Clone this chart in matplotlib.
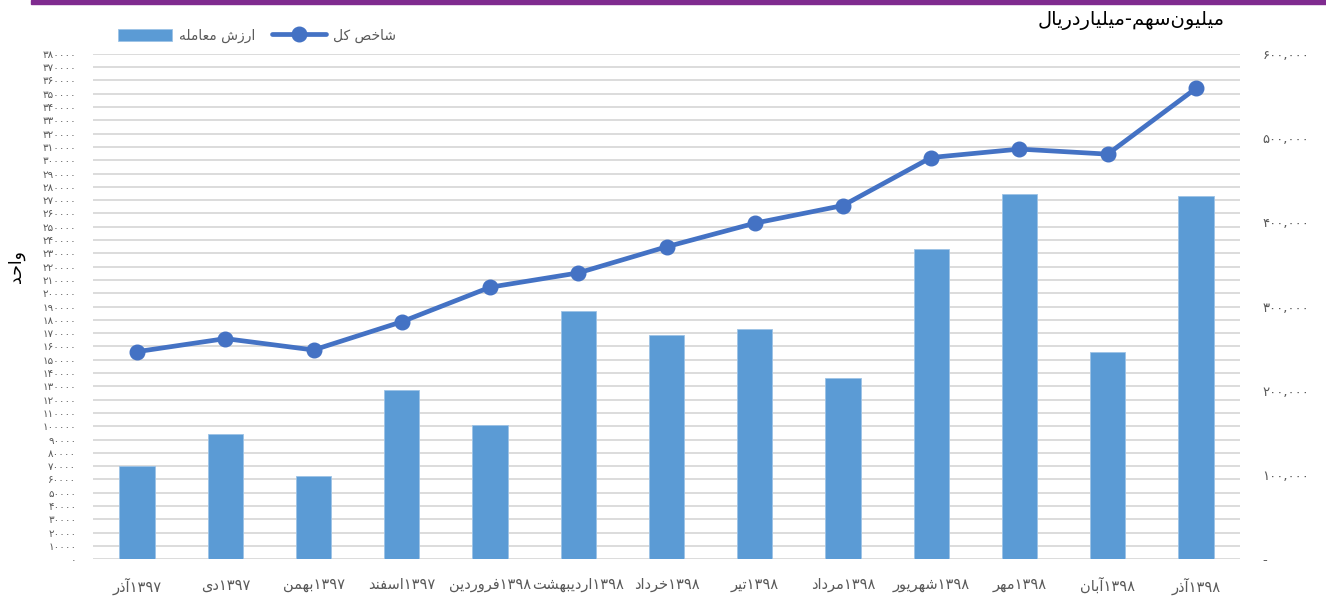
import matplotlib
matplotlib.use("Agg")
import matplotlib.pyplot as plt
from matplotlib.patches import Rectangle
import numpy as np

# simple persian shaping (matplotlib does no arabic joining / bidi)
FORMS = {
    'ا': ('\uFE8D', '\uFE8E', None, None),
    'آ': ('\uFE81', '\uFE82', None, None),
    'ب': ('\uFE8F', '\uFE90', '\uFE91', '\uFE92'),
    'ت': ('\uFE95', '\uFE96', '\uFE97', '\uFE98'),
    'ح': ('\uFEA1', '\uFEA2', '\uFEA3', '\uFEA4'),
    'خ': ('\uFEA5', '\uFEA6', '\uFEA7', '\uFEA8'),
    'د': ('\uFEA9', '\uFEAA', None, None),
    'ذ': ('\uFEAB', '\uFEAC', None, None),
    'ر': ('\uFEAD', '\uFEAE', None, None),
    'ز': ('\uFEAF', '\uFEB0', None, None),
    'س': ('\uFEB1', '\uFEB2', '\uFEB3', '\uFEB4'),
    'ش': ('\uFEB5', '\uFEB6', '\uFEB7', '\uFEB8'),
    'ص': ('\uFEB9', '\uFEBA', '\uFEBB', '\uFEBC'),
    'ع': ('\uFEC9', '\uFECA', '\uFECB', '\uFECC'),
    'ف': ('\uFED1', '\uFED2', '\uFED3', '\uFED4'),
    'ک': ('\uFB8E', '\uFB8F', '\uFB90', '\uFB91'),
    'ل': ('\uFEDD', '\uFEDE', '\uFEDF', '\uFEE0'),
    'م': ('\uFEE1', '\uFEE2', '\uFEE3', '\uFEE4'),
    'ن': ('\uFEE5', '\uFEE6', '\uFEE7', '\uFEE8'),
    'ه': ('\uFEE9', '\uFEEA', '\uFEEB', '\uFEEC'),
    'و': ('\uFEED', '\uFEEE', None, None),
    'ی': ('\uFBFC', '\uFBFD', '\uFBFE', '\uFBFF'),
}

def fa(s):
    out = []
    for i, c in enumerate(s):
        if c not in FORMS:
            if c != '\u200c':
                out.append(c)
            continue
        prev = s[i-1] if i > 0 else ''
        nxt = s[i+1] if i < len(s)-1 else ''
        join_prev = prev in FORMS and FORMS[prev][2] is not None
        join_next = FORMS[c][2] is not None and nxt in FORMS
        iso, fin, ini, med = FORMS[c]
        if join_prev and join_next:
            out.append(med)
        elif join_prev:
            out.append(fin)
        elif join_next:
            out.append(ini)
        else:
            out.append(iso)
    return ''.join(out[::-1])

def fdigits(s):
    return s.translate(str.maketrans('0123456789', '۰۱۲۳۴۵۶۷۸۹'))

# data
years = ['1397', '1397', '1397', '1397', '1398', '1398', '1398', '1398', '1398', '1398', '1398', '1398', '1398']
months = ['آذر', 'دی', 'بهمن', 'اسفند', 'فروردین', 'اردیبهشت', 'خرداد', 'تیر', 'مرداد', 'شهریور', 'مهر', 'آبان', 'آذر']
trade_value = [70000, 94500, 62400, 127600, 101000, 187000, 169000, 173000, 136000, 233000, 275000, 156000, 273000]
total_index = [246500, 262000, 248500, 282000, 323000, 340000, 371000, 399000, 420000, 477000, 487000, 481000, 559000]

# visual order: month word on the left, year digits on the right
labels = [fa(m) + fdigits(y) for y, m in zip(years, months)]

plt.rcParams['font.family'] = ['DejaVu Sans']
grey = '#595959'

fig = plt.figure(figsize=(13.26, 5.98), dpi=100)
ax = fig.add_axes([93/1326, 1-559.3/598, 1147/1326, 505.4/598])
ax2 = ax.twinx()

x = np.arange(len(labels))
bars = ax.bar(x, trade_value, width=0.4, color='#5B9BD5', edgecolor='#9DC3E6', linewidth=0.6,
              zorder=2, label=fa('ارزش معامله'))
line, = ax2.plot(x, total_index, color='#4472C4', linewidth=3.4, marker='o', markersize=10.5,
                 solid_capstyle='round', label=fa('شاخص کل'), zorder=3)

ax.set_xlim(-0.5, len(labels)-0.5)
ax.set_ylim(0, 380000)
ax.set_yticks(np.arange(0, 380001, 10000))
ax.set_yticklabels([fdigits(str(v)) for v in range(0, 380001, 10000)], fontsize=7.5, color=grey)
ax.grid(axis='y', color='#D9D9D9', linewidth=1.3, zorder=0)
ax.set_axisbelow(True)
ax.set_xticks(x)
ax.set_xticklabels(labels, fontsize=10.5, color=grey)
ax.tick_params(axis='both', length=0)
ax.tick_params(axis='y', pad=12)
ax.tick_params(axis='x', pad=13)

ax2.set_ylim(0, 600000)
rticks = np.arange(0, 600001, 100000)
ax2.set_yticks(rticks)
ax2.set_yticklabels(['-'] + [fdigits(f'{v:,}') for v in rticks[1:]],
                    fontsize=9.5, color=grey)
ax2.tick_params(axis='y', length=0, pad=16)

for a in (ax, ax2):
    for s in a.spines.values():
        s.set_visible(False)

ax.set_ylabel(fa('واحد'), fontsize=12.5, color='black')
ax.yaxis.set_label_coords(-0.059, 0.58)

fig.text(1225/1326, 1-20/598, fa('میلیون\u200cسهم-میلیاردریال'), ha='right', va='center',
         fontsize=14, color='black')

fig.legend(handles=[bars, line], loc='center left', bbox_to_anchor=(118/1326, 1-36/598),
           ncol=2, frameon=False, fontsize=10, labelcolor=grey,
           handlelength=3.9, handleheight=1.0, handletextpad=0.5, columnspacing=1.2,
           borderpad=0, borderaxespad=0)

fig.add_artist(Rectangle((31/1326, 1-4/598), 1, 4/598, transform=fig.transFigure,
                         color='#7F2B8F', zorder=5))

fig.savefig('out.png', dpi=100)
